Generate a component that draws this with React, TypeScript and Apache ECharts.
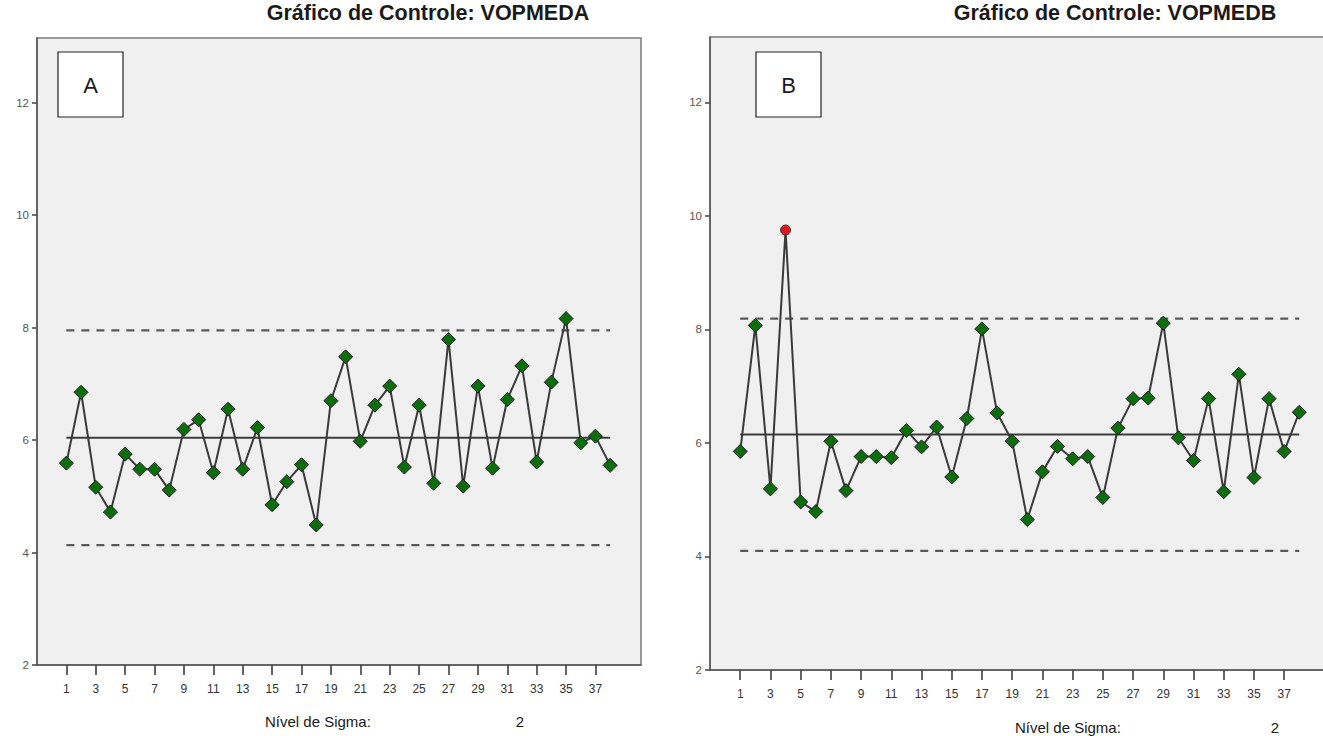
import React, { useEffect, useRef } from "react";
import * as echarts from "echarts";

// ---- Data ----
const samples: number[] = Array.from({ length: 38 }, (_, i) => i + 1);
const xTickLabels: number[] = [1, 3, 5, 7, 9, 11, 13, 15, 17, 19, 21, 23, 25, 27, 29, 31, 33, 35, 37];
const yTickLabels: number[] = [2, 4, 6, 8, 10, 12];

const vopmedA: number[] = [
  5.59, 6.85, 5.16, 4.72, 5.75, 5.48, 5.48, 5.11, 6.19, 6.36,
  5.42, 6.55, 5.48, 6.22, 4.85, 5.26, 5.56, 4.49, 6.7, 7.48,
  5.98, 6.62, 6.96, 5.52, 6.62, 5.23, 7.79, 5.18, 6.96, 5.5,
  6.72, 7.32, 5.61, 7.03, 8.16, 5.95, 6.07, 5.55,
];
const limitsA = { center: 6.04, ucl: 7.95, lcl: 4.13 };

const vopmedB: number[] = [
  5.85, 8.07, 5.19, 9.75, 4.96, 4.79, 6.03, 5.16, 5.76, 5.76,
  5.74, 6.22, 5.93, 6.28, 5.4, 6.43, 8.01, 6.53, 6.03, 4.65,
  5.49, 5.94, 5.72, 5.76, 5.04, 6.26, 6.78, 6.79, 8.11, 6.09,
  5.69, 6.78, 5.14, 7.21, 5.39, 6.78, 5.85, 6.54,
];
const limitsB = { center: 6.15, ucl: 8.19, lcl: 4.1 };
const outOfControlB: number[] = [4];

const titles = ["Gráfico de Controle: VOPMEDA", "Gráfico de Controle: VOPMEDB"];
const panelLetters = ["A", "B"];
const sigmaLabel = "Nível de Sigma:";
const sigmaLevel = "2";

const FONT = "'Liberation Sans', Arial, sans-serif";

function buildPanel(idx: number, values: number[], limits: { center: number; ucl: number; lcl: number }, outliers: number[]) {
  const first = samples[0];
  const last = samples[samples.length - 1];
  const base = { xAxisIndex: idx, yAxisIndex: idx, type: "line" as const, silent: true };
  const limitLine = (v: number, dashed: boolean, z: number) => ({
    ...base,
    data: [[first, v], [last, v]],
    symbol: "none",
    z,
    lineStyle: dashed
      ? { color: "#5a5a5a", width: 2.2, type: [8, 7] }
      : { color: "#3c3c3c", width: 2 },
  });
  return [
    limitLine(limits.ucl, true, 2),
    limitLine(limits.lcl, true, 2),
    limitLine(limits.center, false, 2),
    {
      ...base,
      z: 3,
      data: values.map((v, i) => {
        const s = samples[i];
        if (outliers.includes(s)) {
          return {
            value: [s, v],
            symbol: "circle",
            symbolSize: 10,
            itemStyle: { color: "#e8141b", borderColor: "#333", borderWidth: 1 },
          };
        }
        return [s, v];
      }),
      symbol: "diamond",
      symbolSize: 14,
      itemStyle: { color: "#0b6d0b", borderColor: "#1a1a1a", borderWidth: 1 },
      lineStyle: { color: "#3a3a3a", width: 2 },
    },
  ];
}

export default function App() {
  const ref = useRef<HTMLDivElement>(null);
  useEffect(() => {
    if (!ref.current) return;
    const chart = echarts.init(ref.current, undefined, { renderer: "svg" });
    const grids = [
      { left: 37, top: 38, width: 604, height: 627 },
      { left: 710, top: 37, width: 621, height: 633 },
    ];
    const xAxis = grids.map((_, i) => ({
      type: "value",
      gridIndex: i,
      min: -1,
      max: 40.1,
      splitLine: { show: false },
      axisLine: { show: true, onZero: false, lineStyle: { color: "#555", width: 1.5 } },
      axisTick: { show: true, length: 10, customValues: xTickLabels, lineStyle: { color: "#333", width: 1.5 } },
      axisLabel: { customValues: xTickLabels, margin: 18, fontSize: 12, color: "#333", fontFamily: FONT },
    }));
    const yAxis = grids.map((_, i) => ({
      type: "value",
      gridIndex: i,
      min: 2,
      max: 13.15,
      splitLine: { show: false },
      axisLine: { show: true, onZero: false, lineStyle: { color: "#555", width: 1.5 } },
      axisTick: { show: true, length: 5, customValues: yTickLabels, lineStyle: { color: "#444", width: 1.5 } },
      axisLabel: { customValues: yTickLabels, margin: 8, fontSize: 11.5, color: "#555", fontFamily: FONT },
    }));
    const textStyle = (text: string, x: number, y: number, size: number, weight = "normal", align = "center") => ({
      type: "text",
      x,
      y,
      style: { text, fontSize: size, fontWeight: weight, fill: "#1a1a1a", fontFamily: FONT, align, verticalAlign: "middle" },
    });
    chart.setOption({
      animation: false,
      backgroundColor: "#ffffff",
      grid: grids.map((g) => ({ ...g, show: true, backgroundColor: "#f0f0f0", borderColor: "#7a7a7a", borderWidth: 1.5 })),
      xAxis,
      yAxis,
      series: [
        ...buildPanel(0, vopmedA, limitsA, []),
        ...buildPanel(1, vopmedB, limitsB, outOfControlB),
      ],
      graphic: [
        textStyle(titles[0], 428, 13, 21.5, "bold"),
        textStyle(titles[1], 1115, 13, 21.5, "bold"),
        { type: "rect", shape: { x: 58, y: 52, width: 65, height: 65 }, style: { fill: "#fff", stroke: "#222", lineWidth: 1.2 } },
        textStyle(panelLetters[0], 90.5, 85, 22),
        { type: "rect", shape: { x: 756, y: 52, width: 65, height: 65 }, style: { fill: "#fff", stroke: "#222", lineWidth: 1.2 } },
        textStyle(panelLetters[1], 788.5, 85, 22),
        textStyle(sigmaLabel, 265, 721, 15, "normal", "left"),
        textStyle(sigmaLevel, 520, 721, 15),
        textStyle(sigmaLabel, 1015, 727, 15, "normal", "left"),
        textStyle(sigmaLevel, 1275, 727, 15),
      ],
    });
    return () => chart.dispose();
  }, []);
  return (
    <div style={{ position: "fixed", left: 0, top: 0, width: 1323, height: 736, overflow: "hidden", background: "#fff" }}>
      <div ref={ref} style={{ width: 1345, height: 736 }} />
    </div>
  );
}
